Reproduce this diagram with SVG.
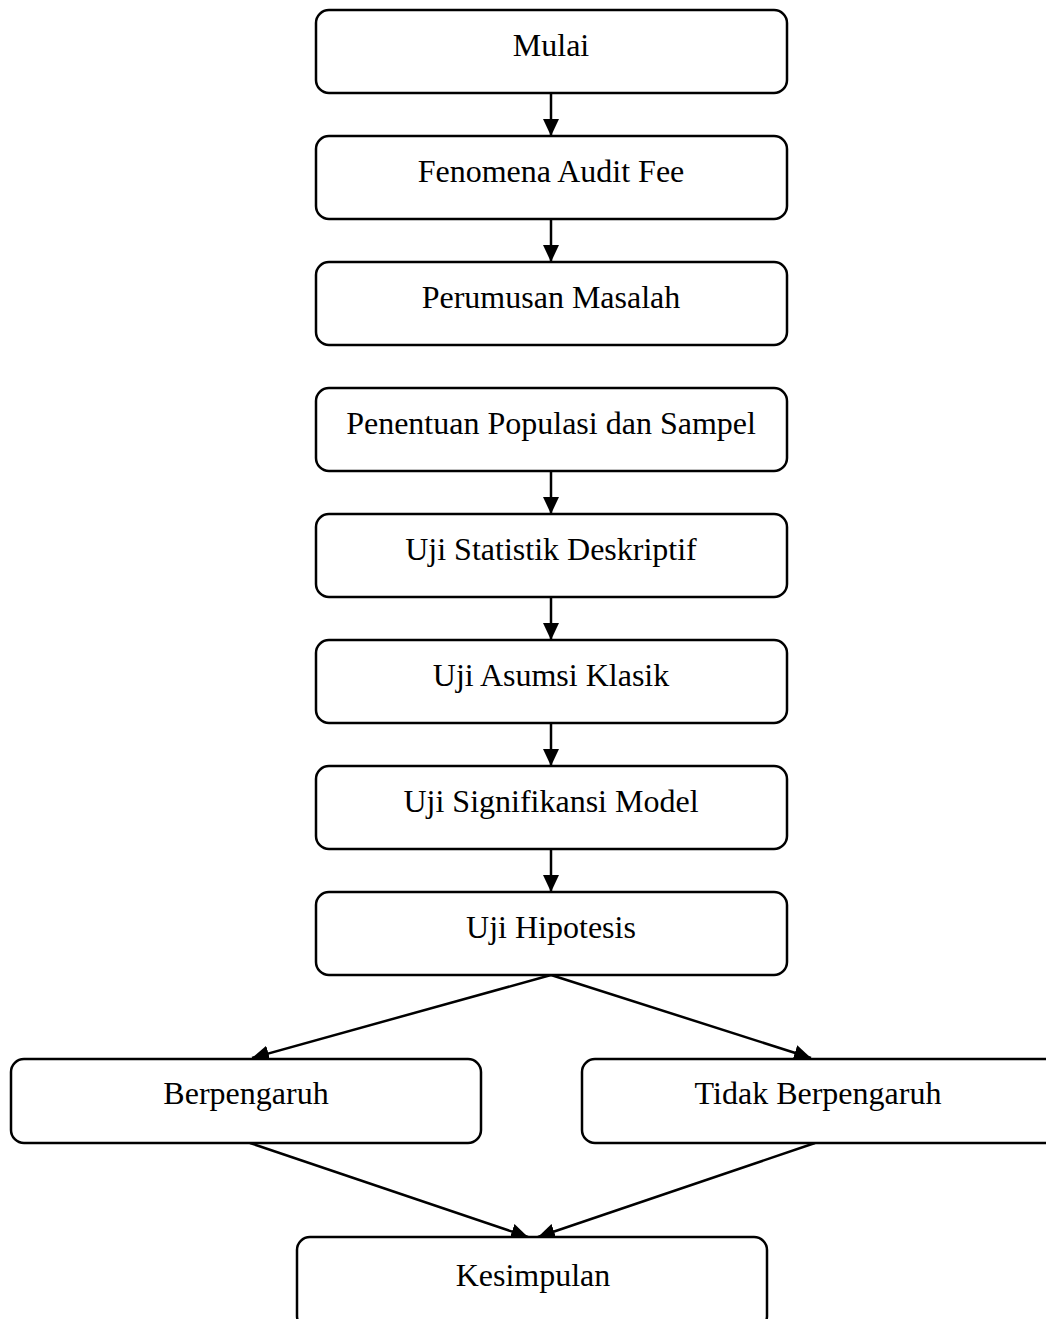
<svg xmlns="http://www.w3.org/2000/svg" width="1046" height="1319" viewBox="0 0 1046 1319">
<style>
.box{fill:#fff;stroke:#000;stroke-width:2.5}
.t{font-family:"Liberation Serif","Times New Roman",serif;font-size:32px;fill:#000;text-anchor:middle}
.c{stroke:#000;stroke-width:2.5;fill:none;marker-end:url(#ah)}
</style>
<defs>
<marker id="ah" viewBox="0 0 17 16" refX="17" refY="8" markerWidth="17" markerHeight="16" markerUnits="userSpaceOnUse" orient="auto">
<path d="M0,0 L17,8 L0,16 Z" fill="#000"/>
</marker>
</defs>
<rect width="1046" height="1319" fill="#fff"/>
<g id="connectors">
<line class="c" x1="551" y1="93" x2="551" y2="136"/>
<line class="c" x1="551" y1="219" x2="551" y2="262"/>
<line class="c" x1="551" y1="471" x2="551" y2="514"/>
<line class="c" x1="551" y1="597" x2="551" y2="640"/>
<line class="c" x1="551" y1="723" x2="551" y2="766"/>
<line class="c" x1="551" y1="849" x2="551" y2="892"/>
<line class="c" x1="551" y1="975" x2="252" y2="1058"/>
<line class="c" x1="551" y1="975" x2="811" y2="1058"/>
<line class="c" x1="250" y1="1143" x2="528" y2="1237"/>
<line class="c" x1="815" y1="1143" x2="538" y2="1237"/>
</g>
<g id="n1"><rect class="box" x="316" y="10" width="471" height="83" rx="13"/><text class="t" x="551" y="56">Mulai</text></g>
<g id="n2"><rect class="box" x="316" y="136" width="471" height="83" rx="13"/><text class="t" x="551" y="182">Fenomena Audit Fee</text></g>
<g id="n3"><rect class="box" x="316" y="262" width="471" height="83" rx="13"/><text class="t" x="551" y="308">Perumusan Masalah</text></g>
<g id="n4"><rect class="box" x="316" y="388" width="471" height="83" rx="13"/><text class="t" x="551" y="434">Penentuan Populasi dan Sampel</text></g>
<g id="n5"><rect class="box" x="316" y="514" width="471" height="83" rx="13"/><text class="t" x="551" y="560">Uji Statistik Deskriptif</text></g>
<g id="n6"><rect class="box" x="316" y="640" width="471" height="83" rx="13"/><text class="t" x="551" y="686">Uji Asumsi Klasik</text></g>
<g id="n7"><rect class="box" x="316" y="766" width="471" height="83" rx="13"/><text class="t" x="551" y="812">Uji Signifikansi Model</text></g>
<g id="n8"><rect class="box" x="316" y="892" width="471" height="83" rx="13"/><text class="t" x="551" y="938">Uji Hipotesis</text></g>
<g id="n9"><rect class="box" x="11" y="1059" width="470" height="84" rx="13"/><text class="t" x="246" y="1104">Berpengaruh</text></g>
<g id="n10"><rect class="box" x="582" y="1059" width="476" height="84" rx="13"/><text class="t" x="818" y="1104">Tidak Berpengaruh</text></g>
<g id="n11"><rect class="box" x="297" y="1237" width="470" height="92" rx="13"/><text class="t" x="533" y="1286">Kesimpulan</text></g>
</svg>
